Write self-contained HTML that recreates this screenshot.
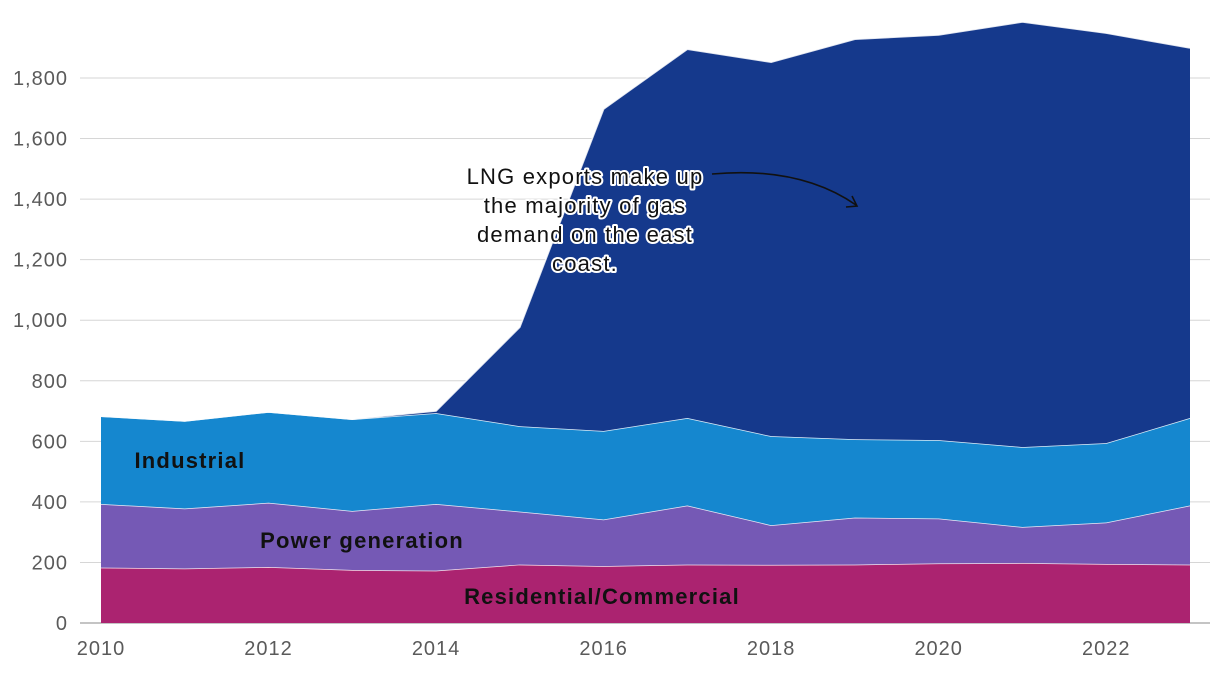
<!DOCTYPE html>
<html><head><meta charset="utf-8"><style>
body{margin:0;background:#fff;font-family:"Liberation Sans",sans-serif}
svg text{font-family:"Liberation Sans",sans-serif}
</style></head><body>
<svg id="chart" width="1220" height="668"></svg>
<script>
const years=[2010,2011,2012,2013,2014,2015,2016,2017,2018,2019,2020,2021,2022,2023];
const residential=[183,180,185,175,173,193,188,193,192,193,197,198,195,193];
const power=[210,198,212,195,220,175,154,195,131,155,148,119,137,195];
const industrial=[290,289,300,303,300,282,292,289,294,259,259,264,262,289];
const lng=[0,0,0,0,7,327,1063,1218,1235,1321,1338,1404,1354,1222];
const yTicks=[0,200,400,600,800,1000,1200,1400,1600,1800];
const xTicks=[2010,2012,2014,2016,2018,2020,2022];
const NS="http://www.w3.org/2000/svg";
const svg=document.getElementById('chart');
const x=v=>101+(v-2010)*(1190-101)/13;
const y=v=>623-v*(623-78)/1800;
function mk(t,a){const e=document.createElementNS(NS,t);for(const k in a)e.setAttribute(k,a[k]);svg.appendChild(e);return e;}
yTicks.forEach(t=>{
  const l=mk('line',{x1:80,x2:1210,y1:y(t),y2:y(t),stroke:t===0?'#888':'#d6d6d6','stroke-width':1});
  
  
  const tx=mk('text',{x:68,y:y(t)+7,'text-anchor':'end','font-size':20,'letter-spacing':1,fill:'#5a5a5a'});
  tx.textContent=t.toLocaleString('en-US');
  
  
});
xTicks.forEach(t=>{
  const tx=mk('text',{x:x(t),y:655,'text-anchor':'middle','font-size':20,'letter-spacing':1,fill:'#5a5a5a'});
  tx.textContent=t;
  
  
});
const series=[[residential,'#ab2370','area-residential'],[power,'#7559b5','area-power-generation'],[industrial,'#1587cf','area-industrial'],[lng,'#15398c','area-lng-exports']];
let base=years.map(()=>0);
series.forEach(([vals,col,name])=>{
  const top=base.map((b,i)=>b+vals[i]);
  let d='M'+years.map((yr,i)=>x(yr)+','+y(top[i])).join('L');
  for(let i=years.length-1;i>=0;i--)d+='L'+x(years[i])+','+y(base[i]);
  d+='Z';
  const p=mk('path',{d:d,fill:col});
  
  
  const l=mk('polyline',{points:years.map((yr,i)=>x(yr)+','+y(top[i])).join(' '),fill:'none',stroke:'#fff','stroke-width':1.5,'stroke-opacity':0.85});
  
  
  base=top;
});
function lab(txt,xx,yy,name){const t=mk('text',{x:xx,y:yy,'text-anchor':'middle','font-size':22,'letter-spacing':1.2,'font-weight':'bold',fill:'#111'});t.textContent=txt;

}
lab('Industrial',190,468,'label-industrial');
lab('Power generation',362,548,'label-power-generation');
lab('Residential/Commercial',602,604,'label-residential');
const ann=['LNG exports make up','the majority of gas','demand on the east','coast.'];
ann.forEach((s,i)=>{
  const t=mk('text',{x:585,y:184+i*29,'text-anchor':'middle','font-size':22,'letter-spacing':1.2,fill:'#111',stroke:'#fff','stroke-width':4,'paint-order':'stroke','stroke-linejoin':'round'});
  t.textContent=s;
  
  
});
const a=mk('path',{d:'M712,174 Q800,166 856,205',fill:'none',stroke:'#111','stroke-width':1.6});


const h=mk('path',{d:'M846,207 L857,206 L852,196',fill:'none',stroke:'#111','stroke-width':1.6});


</script>
</body></html>
